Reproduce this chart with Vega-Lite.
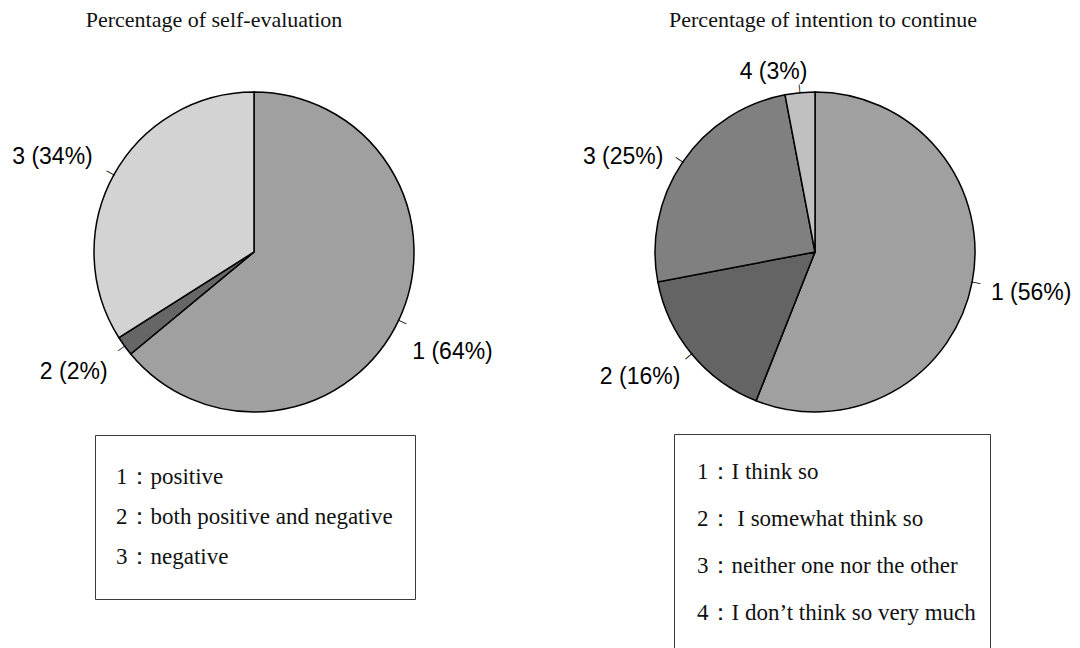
{
  "$schema": "https://vega.github.io/schema/vega-lite/v6.json",
  "autosize": "none",
  "width": 1080,
  "height": 504,
  "padding": {"left": 0, "top": 0, "right": 0, "bottom": 144},
  "background": "white",
  "config": {
    "view": {"stroke": null},
    "legend": {
      "strokeColor": "#3a3a3a",
      "labelFont": "Liberation Serif",
      "labelFontSize": 23,
      "labelColor": "#111111",
      "symbolSize": 0,
      "symbolOpacity": 0,
      "symbolStrokeWidth": 0,
      "labelLimit": 600,
      "rowPadding": 0
    }
  },
  "datasets": {
    "self": [
      {"chart": "Percentage of self-evaluation", "cat": "1：positive", "label": "1 (64%)", "pct": 64},
      {"chart": "Percentage of self-evaluation", "cat": "2：both positive and negative", "label": "2 (2%)", "pct": 2},
      {"chart": "Percentage of self-evaluation", "cat": "3：negative", "label": "3 (34%)", "pct": 34}
    ],
    "intent": [
      {"chart": "Percentage of intention to continue", "cat": "1：I think so", "label": "1 (56%)", "pct": 56},
      {"chart": "Percentage of intention to continue", "cat": "2： I somewhat think so", "label": "2 (16%)", "pct": 16},
      {"chart": "Percentage of intention to continue", "cat": "3：neither one nor the other", "label": "3 (25%)", "pct": 25},
      {"chart": "Percentage of intention to continue", "cat": "4：I don’t think so very much", "label": "4 (3%)", "pct": 3}
    ]
  },
  "layer": [
    {
      "data": {"name": "self"},
      "mark": {"type": "arc", "radius": 160, "stroke": "black", "strokeWidth": 1.5},
      "encoding": {
        "x": {"field": "chart", "type": "nominal", "axis": null, "scale": {"type": "point", "padding": 0, "domain": ["Percentage of self-evaluation", "Percentage of intention to continue"], "range": [254, 815]}},
        "theta": {"field": "pct", "type": "quantitative", "stack": true},
        "order": {"field": "cat", "sort": "ascending"},
        "color": {
          "field": "cat", "type": "nominal",
          "scale": {"domain": ["1：positive", "2：both positive and negative", "3：negative"], "range": ["#a0a0a0", "#666666", "#d3d3d3"]},
          "legend": {"orient": "none", "legendX": 95, "legendY": 435, "title": null, "padding": 22, "clipHeight": 40, "labelOffset": -24}
        }
      }
    },
    {
      "data": {"name": "intent"},
      "mark": {"type": "arc", "radius": 160, "stroke": "black", "strokeWidth": 1.5},
      "encoding": {
        "x": {"field": "chart", "type": "nominal", "axis": null},
        "theta": {"field": "pct", "type": "quantitative", "stack": true},
        "order": {"field": "cat", "sort": "ascending"},
        "color": {
          "field": "cat", "type": "nominal",
          "scale": {"domain": ["1：I think so", "2： I somewhat think so", "3：neither one nor the other", "4：I don’t think so very much"], "range": ["#a0a0a0", "#646464", "#808080", "#c0c0c0"]},
          "legend": {"orient": "none", "legendX": 674, "legendY": 434, "title": null, "padding": 14, "clipHeight": 47, "labelOffset": -14}
        }
      }
    },
    {
      "data": {"name": "self"},
      "mark": {"type": "text", "radius": 164, "text": "|", "font": "Liberation Sans", "fontSize": 10, "align": "center", "baseline": "middle", "color": "black"},
      "encoding": {
        "x": {"field": "chart", "type": "nominal", "axis": null},
        "theta": {"field": "pct", "type": "quantitative", "stack": true},
        "order": {"field": "cat", "sort": "ascending"},
        "detail": {"field": "cat", "type": "nominal"},
        "angle": {"value": {"expr": "(datum.pct_start + datum.pct_end) * 1.8"}}
      }
    },
    {
      "data": {"name": "intent"},
      "mark": {"type": "text", "radius": 164, "text": "|", "font": "Liberation Sans", "fontSize": 10, "align": "center", "baseline": "middle", "color": "black"},
      "encoding": {
        "x": {"field": "chart", "type": "nominal", "axis": null},
        "theta": {"field": "pct", "type": "quantitative", "stack": true},
        "order": {"field": "cat", "sort": "ascending"},
        "detail": {"field": "cat", "type": "nominal"},
        "angle": {"value": {"expr": "(datum.pct_start + datum.pct_end) * 1.8"}}
      }
    },
    {
      "data": {"name": "self"},
      "mark": {"type": "text", "radius": 176, "font": "Liberation Sans", "fontSize": 23, "align": "left", "baseline": "middle", "color": "black", "dx": -1, "dy": 25},
      "encoding": {
        "x": {"field": "chart", "type": "nominal", "axis": null},
        "theta": {"field": "pct", "type": "quantitative", "stack": true},
        "order": {"field": "cat", "sort": "ascending"},
        "detail": {"field": "cat", "type": "nominal"},
        "text": {"condition": {"test": "datum.label == '1 (64%)'", "field": "label", "type": "nominal"}, "value": ""}
      }
    },
    {
      "data": {"name": "self"},
      "mark": {"type": "text", "radius": 176, "font": "Liberation Sans", "fontSize": 23, "align": "right", "baseline": "middle", "color": "black", "dx": -4, "dy": 17},
      "encoding": {
        "x": {"field": "chart", "type": "nominal", "axis": null},
        "theta": {"field": "pct", "type": "quantitative", "stack": true},
        "order": {"field": "cat", "sort": "ascending"},
        "detail": {"field": "cat", "type": "nominal"},
        "text": {"condition": {"test": "datum.label == '2 (2%)'", "field": "label", "type": "nominal"}, "value": ""}
      }
    },
    {
      "data": {"name": "self"},
      "mark": {"type": "text", "radius": 176, "font": "Liberation Sans", "fontSize": 23, "align": "right", "baseline": "middle", "color": "black", "dx": -7, "dy": -10},
      "encoding": {
        "x": {"field": "chart", "type": "nominal", "axis": null},
        "theta": {"field": "pct", "type": "quantitative", "stack": true},
        "order": {"field": "cat", "sort": "ascending"},
        "detail": {"field": "cat", "type": "nominal"},
        "text": {"condition": {"test": "datum.label == '3 (34%)'", "field": "label", "type": "nominal"}, "value": ""}
      }
    },
    {
      "data": {"name": "intent"},
      "mark": {"type": "text", "radius": 176, "font": "Liberation Sans", "fontSize": 23, "align": "left", "baseline": "middle", "color": "black", "dx": 3, "dy": 8},
      "encoding": {
        "x": {"field": "chart", "type": "nominal", "axis": null},
        "theta": {"field": "pct", "type": "quantitative", "stack": true},
        "order": {"field": "cat", "sort": "ascending"},
        "detail": {"field": "cat", "type": "nominal"},
        "text": {"condition": {"test": "datum.label == '1 (56%)'", "field": "label", "type": "nominal"}, "value": ""}
      }
    },
    {
      "data": {"name": "intent"},
      "mark": {"type": "text", "radius": 176, "font": "Liberation Sans", "fontSize": 23, "align": "right", "baseline": "middle", "color": "black", "dx": 1, "dy": 13},
      "encoding": {
        "x": {"field": "chart", "type": "nominal", "axis": null},
        "theta": {"field": "pct", "type": "quantitative", "stack": true},
        "order": {"field": "cat", "sort": "ascending"},
        "detail": {"field": "cat", "type": "nominal"},
        "text": {"condition": {"test": "datum.label == '2 (16%)'", "field": "label", "type": "nominal"}, "value": ""}
      }
    },
    {
      "data": {"name": "intent"},
      "mark": {"type": "text", "radius": 176, "font": "Liberation Sans", "fontSize": 23, "align": "right", "baseline": "middle", "color": "black", "dx": -6, "dy": 4},
      "encoding": {
        "x": {"field": "chart", "type": "nominal", "axis": null},
        "theta": {"field": "pct", "type": "quantitative", "stack": true},
        "order": {"field": "cat", "sort": "ascending"},
        "detail": {"field": "cat", "type": "nominal"},
        "text": {"condition": {"test": "datum.label == '3 (25%)'", "field": "label", "type": "nominal"}, "value": ""}
      }
    },
    {
      "data": {"name": "intent"},
      "mark": {"type": "text", "radius": 176, "font": "Liberation Sans", "fontSize": 23, "align": "right", "baseline": "middle", "color": "black", "dx": 9, "dy": -5},
      "encoding": {
        "x": {"field": "chart", "type": "nominal", "axis": null},
        "theta": {"field": "pct", "type": "quantitative", "stack": true},
        "order": {"field": "cat", "sort": "ascending"},
        "detail": {"field": "cat", "type": "nominal"},
        "text": {"condition": {"test": "datum.label == '4 (3%)'", "field": "label", "type": "nominal"}, "value": ""}
      }
    },
    {
      "data": {"name": "self"},
      "transform": [{"aggregate": [{"op": "count", "as": "n"}], "groupby": ["chart"]}],
      "mark": {"type": "text", "font": "Liberation Serif", "fontSize": 22, "align": "center", "baseline": "middle", "color": "#111111", "dx": -40},
      "encoding": {
        "x": {"field": "chart", "type": "nominal", "axis": null},
        "y": {"value": 20},
        "text": {"field": "chart", "type": "nominal"}
      }
    },
    {
      "data": {"name": "intent"},
      "transform": [{"aggregate": [{"op": "count", "as": "n"}], "groupby": ["chart"]}],
      "mark": {"type": "text", "font": "Liberation Serif", "fontSize": 22, "align": "center", "baseline": "middle", "color": "#111111", "dx": 8},
      "encoding": {
        "x": {"field": "chart", "type": "nominal", "axis": null},
        "y": {"value": 20},
        "text": {"field": "chart", "type": "nominal"}
      }
    }
  ],
  "resolve": {"scale": {"color": "independent"}, "legend": {"color": "independent"}}
}
